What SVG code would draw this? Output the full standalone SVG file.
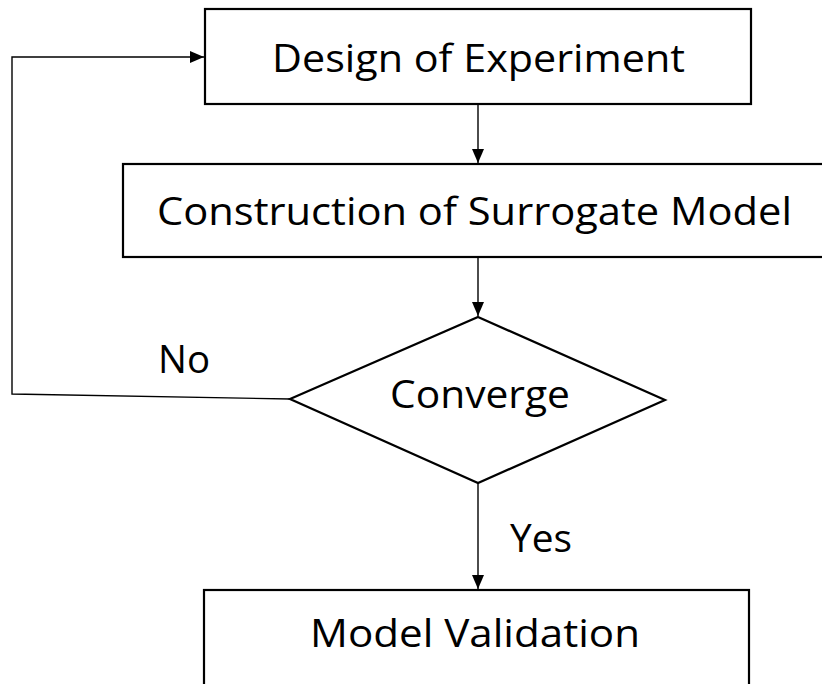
<svg xmlns="http://www.w3.org/2000/svg" width="822" height="684" viewBox="0 0 822 684">
  <style>
    .box { fill: #ffffff; stroke: #000000; stroke-width: 2.2; }
    .link { fill: none; stroke: #000000; stroke-width: 1.4; }
    .label { font-family: "Open Sans", "Liberation Sans", sans-serif; font-size: 39px; fill: #000000; }
  </style>
  <defs>
    <marker id="arrow" viewBox="0 0 14 12" refX="14" refY="6" markerWidth="14" markerHeight="12" markerUnits="userSpaceOnUse" orient="auto">
      <path d="M0,0 L14,6 L0,12 Z" fill="#000000"/>
    </marker>
  </defs>
  <rect width="822" height="684" fill="#ffffff"/>

  <g id="connectors">
    <line class="link" x1="478" y1="104" x2="478" y2="163" marker-end="url(#arrow)"/>
    <line class="link" x1="478" y1="257" x2="478" y2="316" marker-end="url(#arrow)"/>
    <line class="link" x1="478" y1="483" x2="478" y2="589" marker-end="url(#arrow)"/>
    <polyline class="link" points="290,399 12,394 12,57 204,57" marker-end="url(#arrow)"/>
    <text class="label" x="158" y="373" textLength="52" lengthAdjust="spacingAndGlyphs">No</text>
    <text class="label" x="510" y="552" textLength="62" lengthAdjust="spacingAndGlyphs">Yes</text>
  </g>

  <g id="design-of-experiment">
    <rect class="box" x="205" y="9" width="546" height="95"/>
    <text class="label" x="272" y="72" textLength="413" lengthAdjust="spacingAndGlyphs">Design of Experiment</text>
  </g>

  <g id="surrogate-model">
    <rect class="box" x="123" y="164" width="710" height="93"/>
    <text class="label" x="157" y="225" textLength="635" lengthAdjust="spacingAndGlyphs">Construction of Surrogate Model</text>
  </g>

  <g id="converge">
    <polygon class="box" points="478,317 665,400 478,483 290,399"/>
    <text class="label" x="390" y="408" textLength="180" lengthAdjust="spacingAndGlyphs">Converge</text>
  </g>

  <g id="model-validation">
    <rect class="box" x="204" y="590" width="545" height="110"/>
    <text class="label" x="310" y="647" textLength="330" lengthAdjust="spacingAndGlyphs">Model Validation</text>
  </g>
</svg>
